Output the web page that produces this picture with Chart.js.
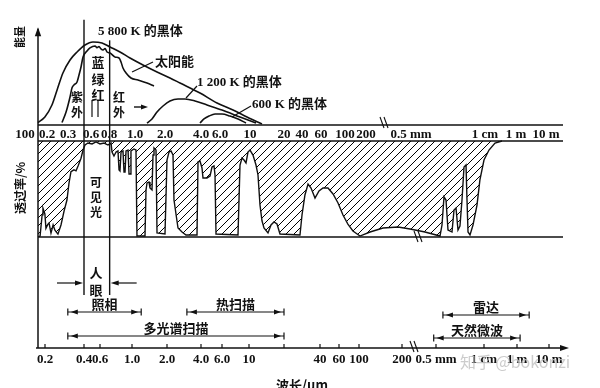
<!DOCTYPE html>
<html><head><meta charset="utf-8">
<script src="https://cdn.jsdelivr.net/npm/chart.js@4.4.1/dist/chart.umd.min.js"></script>
<style>html,body{margin:0;padding:0;background:#fff;overflow:hidden}</style>
</head><body>
<canvas id="c" width="600" height="388"></canvas>
<script>
// ================= DATA (wavelength in μm) =================
// Energy curves (relative spectral energy)
const bb5800Wl = [0.168,0.192,0.22,0.243,0.272,0.319,0.394,0.501,0.619,0.715,0.807,0.879,0.958,1.203,1.663,2.201,2.67,3.924,5.63,7.49,9.5,12.77];
const bb5800E  = [0.03,0.097,0.243,0.426,0.633,0.791,0.888,0.973,1.01,0.998,0.949,0.888,0.815,0.73,0.645,0.572,0.511,0.389,0.268,0.182,0.097,0.012];
const solarWl = [0.267,0.289,0.319,0.338,0.359,0.394,0.418,0.444,0.472,0.532,0.582,0.64,0.66,0.682,0.704,0.727,0.751,0.775,0.807,0.842,0.872,0.887,0.902,0.926,0.966,1.072,1.32,1.551];
const solarE  = [0.03,0.158,0.341,0.45,0.487,0.523,0.608,0.706,0.827,0.9,0.937,0.961,0.94,0.955,0.925,0.912,0.93,0.888,0.876,0.827,0.815,0.766,0.693,0.633,0.572,0.547,0.511,0.474];
const bb1200Wl = [1.32,1.481,1.663,1.91,2.201,2.569,2.94,3.564,4.547,6.208,8.434,11.3];
const bb1200E  = [0.024,0.073,0.158,0.231,0.292,0.316,0.316,0.292,0.243,0.182,0.097,0.024];
const bb600Wl = [3.924,4.265,4.75,5.394,6.208,7.114,8.153,9.341];
const bb600E  = [0.024,0.073,0.109,0.134,0.134,0.109,0.073,0.024];

// Atmospheric transmission (%)
const transWl = [0.168,0.175,0.182,0.185,0.192,0.196,0.204,0.208,0.216,0.225,
 0.233,0.247,0.262,0.278,0.294,0.309,0.328,0.359,0.382,0.406,
 0.444,0.472,0.501,0.548,0.61,0.65,0.693,0.739,0.787,0.814,
 0.821,0.835,0.85,0.864,0.872,0.879,0.887,0.902,0.91,0.918,
 0.926,0.942,0.95,0.958,0.966,0.991,1.023,1.047,1.26,1.29,
 1.32,1.382,1.414,1.481,1.516,1.551,1.625,1.663,2.0,2.078,
 2.16,2.245,2.333,2.378,2.569,2.775,2.996,3.704,3.776,3.924,
 4.086,4.175,4.547,4.848,5.059,5.28,5.394,5.51,8.153,8.434,
 8.726,9.029,9.341,9.663,10,10.63,11.3,11.77,12.26,12.77,
 13.3,14.43,15.34,16.31,17.34,18.43,37,40,42.6,45.5,
 48.5,52.8,57.5,62.6,69.6,77.5,86.2,95.8,110,130,
 164,217,283,384,490,881,1617,1754,1902,2063,
 2236,2630,2852,3092,3350,3630,3940,4275,4636,4827,
 5030,5450,6152,7233,8140,9600,18100,44200,125000,3.7e7];
const transPct = [0,1,23,30,24,9,13.5,14.6,4,12.5,
 7,3,12.5,27,38.5,56,68,70,69,74,
 82,90.6,95.8,97.9,96.9,99,96.9,97.9,95.8,97.9,
 88.5,84.4,88.5,89.6,69.8,68.8,88.5,89.6,67.7,67.7,
 89.6,90.6,65.6,65.6,89.6,91.7,90.6,1,1,49,
 56.3,57.3,51,49,85.4,92.7,90.6,4.2,3.1,80.2,
 88.5,89.6,85.4,38.5,9.4,5.2,2.1,2.1,78.1,79.2,
 71.9,61.5,61.5,63.5,72.9,74,64.6,3.1,2.1,75,
 82.3,80.2,77.1,88.5,90.6,85.4,75,64.6,33.3,16.7,
 9.4,4.2,12.5,15.6,13.5,3.1,2.1,22.9,43.8,55.2,
 51,40.6,47.9,51,51,44.8,35.4,22.9,13.5,6.3,
 1,5.2,9.4,10.4,8.3,5.2,1,12.5,41.7,38.5,
 7.3,5.2,28.1,30.2,7.3,11.5,38.5,72.9,75,38.5,
 5.2,2.1,12.5,33.3,59.4,80.2,90.6,97.9,100,100];

// Tick labels
const topTickWl = [0.2,0.3,0.6,0.8,1,2,4,6,10,20,40,60,100,200,500,1e4,1e6,1e7];
const topTickLabels = ['0.2','0.3','0.6','0.8','1.0','2.0','4.0','6.0','10','20','40','60','100','200','0.5 mm','1 cm','1 m','10 m'];
const botTickWl = [0.2,0.4,0.6,1,2,4,6,10,40,60,100,200,500,1e4,1e6,1e7];
const botTickLabels = ['0.2','0.4','0.6','1.0','2.0','4.0','6.0','10','40','60','100','200','0.5 mm','1 cm','1 m','10 m'];

// Sensor ranges (μm) and visible band
const sensorNames = ['照相','热扫描','多光谱扫描','雷达','天然微波'];
const sensorFrom  = [0.3, 3, 0.3, 770, 470];
const sensorTo    = [1.2, 20, 20, 2.4e6, 1.25e6];
const visibleBand = [0.4, 0.7];

// ================= AXIS LAYOUT (broken wavelength axes) =================
const SPAN = 525;
const AXES = {
  x:  { wl: [0.2,0.3,0.6,0.8,1,2,4,6,10,20,40,60,100,200,500,1e4,1e6,1e7],
        pos:[9,30,53,71,97,127,163,182,212,246,264,283,307,328,373,447,478,508] },
  xb: { wl: [0.2,0.4,0.6,1,2,4,6,10,20,40,60,100,200,500,1e4,1e6,1e7],
        pos:[7,46,62,94,129,163,184,211,246,282,301,321,364,398,446,479,511] }
};
const SENSOR_ROWS = [36, 36, 12, 33, 10];
const EYE_ROW = 65;

const LinearScale = Chart.LinearScale || Chart.registry.getScale('linear');
class BrokenAxis extends LinearScale {
  getPixelForValue(v) {
    if (v === null || v === undefined || isNaN(v)) return NaN;
    const a = AXES[this.id], W = a.wl, P = a.pos;
    let i = 0;
    while (i < W.length - 2 && v > W[i + 1]) i++;
    const f = Math.log(v / W[i]) / Math.log(W[i + 1] / W[i]);
    const pos = P[i] + f * (P[i + 1] - P[i]);
    return this.left + pos * this.width / SPAN;
  }
}
BrokenAxis.id = 'broken';
Chart.register(BrokenAxis);

// ================= STYLE =================
const INK = '#111';
const SERIF = "bold 13px 'Liberation Serif', 'Noto Sans CJK SC', serif";
const CJK13 = "bold 13px 'Noto Sans CJK SC', sans-serif";
const CJK12 = "bold 12px 'Noto Sans CJK SC', sans-serif";

function hatchPattern() {
  const s = 8, c = document.createElement('canvas');
  c.width = s; c.height = s;
  const g = c.getContext('2d');
  g.strokeStyle = '#000'; g.lineWidth = 1;
  g.beginPath();
  g.moveTo(0, s); g.lineTo(s, 0);
  g.moveTo(-1, 1); g.lineTo(1, -1);
  g.moveTo(s - 1, s + 1); g.lineTo(s + 1, s - 1);
  g.stroke();
  return g.createPattern(c, 'repeat');
}

const pts = (xs, ys) => xs.map((x, i) => ({x, y: ys[i]}));
const curve = (wl, e) => ({
  data: pts(wl, e), xAxisID: 'x', yAxisID: 'yE',
  borderColor: INK, borderWidth: 1.6, pointRadius: 0, fill: false,
  cubicInterpolationMode: 'monotone'
});

function ln(g, x1, y1, x2, y2, w) { g.lineWidth = w || 1.4; g.beginPath(); g.moveTo(x1, y1); g.lineTo(x2, y2); g.stroke(); }
function head(g, x, y, dir, len, half) {
  g.beginPath();
  if (dir === 'r') { g.moveTo(x, y); g.lineTo(x - len, y - half); g.lineTo(x - len, y + half); }
  else if (dir === 'l') { g.moveTo(x, y); g.lineTo(x + len, y - half); g.lineTo(x + len, y + half); }
  else { g.moveTo(x, y); g.lineTo(x - half, y + len); g.lineTo(x + half, y + len); }
  g.closePath(); g.fill();
}
function txt(g, s, x, y, font, align) { g.font = font; g.textAlign = align || 'center'; g.textBaseline = 'middle'; g.fillText(s, x, y); }
function vtxt(g, s, x, ys, font) { s.split('').forEach((c, i) => txt(g, c, x, ys[i], font)); }
function rtxt(g, s, x, y, font) { g.save(); g.translate(x, y); g.rotate(-Math.PI / 2); txt(g, s, 0, 0, font); g.restore(); }

const deco = {
  id: 'deco',
  afterDatasetsDraw(chart) {
    const g = chart.ctx, S = chart.scales;
    const X = w => S.x.getPixelForValue(w), XB = w => S.xb.getPixelForValue(w);
    const YE = v => S.yE.getPixelForValue(v), YT = v => S.yT.getPixelForValue(v), YB = v => S.yB.getPixelForValue(v);
    const L = chart.chartArea.left, R = chart.chartArea.right;
    g.save();
    g.strokeStyle = INK; g.fillStyle = INK; g.lineCap = 'butt';

    // axes frame
    ln(g, L, YE(1.17), L, YB(0), 1.5);
    head(g, L, YE(1.19), 'u', 9, 3.2);
    ln(g, L, YE(0), R, YE(0), 1.5);
    ln(g, L, YT(0), R, YT(0), 1.4);
    // top edge of absorption hatch (100%)
    let k = transPct.length - 1;
    while (k > 0 && transPct[k - 1] >= 100) k--;
    ln(g, L, YT(100), X(transWl[k]), YT(100), 1.4);
    // bottom axis with arrow
    ln(g, L - 2, YB(0), R + 1, YB(0), 1.5);
    head(g, R + 6, YB(0), 'r', 9, 3);

    // break marks
    const brk = (x, y) => { ln(g, x - 4, y - 6, x, y + 5, 1.1); ln(g, x, y - 6, x + 4, y + 5, 1.1); };
    brk(384, YE(0) - 2); brk(418, YT(0)); brk(414, YB(0) - 1);

    // visible band boundary lines
    ln(g, XB(visibleBand[0]), YE(1.28), XB(visibleBand[0]), YB(53), 1.4);
    ln(g, XB(visibleBand[1]), YE(1.03), XB(visibleBand[1]), YB(53), 1.4);

    // top tick labels
    g.fillStyle = INK;
    topTickWl.forEach((w, i) => txt(g, topTickLabels[i], X(w), 135, SERIF));
    txt(g, '100', 25, 135, SERIF);

    // bottom ticks + labels
    botTickWl.forEach((w, i) => { ln(g, XB(w), YB(0), XB(w), YB(0) - 4, 1.2); txt(g, botTickLabels[i], XB(w), 360, SERIF); });
    ln(g, XB(20), YB(0), XB(20), YB(0) - 4, 1.2);

    // energy panel labels + leaders
    txt(g, '5 800 K 的黑体', 98, 32, SERIF, 'left');
    txt(g, '太阳能', 155, 61, CJK13, 'left');
    txt(g, '1 200 K 的黑体', 197, 83, SERIF, 'left');
    txt(g, '600 K 的黑体', 252, 105, SERIF, 'left');
    ln(g, 132, 72, 153, 62, 1.2);
    ln(g, 186, 98, 197, 86, 1.2);
    ln(g, 232, 117, 251, 106, 1.2);
    vtxt(g, '紫外', 77, [97, 112], CJK12);
    vtxt(g, '蓝绿红', 98, [62, 79, 95], CJK13);
    vtxt(g, '红外', 119, [97, 112], CJK12);
    ln(g, 92, 100, 92, 117, 1.2); ln(g, 98, 100, 98, 117, 1.2);
    ln(g, 134, 107, 142, 107, 1.4); head(g, 148, 107, 'r', 7, 2.5);

    // transmission panel labels
    vtxt(g, '可见光', 96, [182, 197, 212], CJK12);

    // eye arrows
    const ey = YB(EYE_ROW);
    ln(g, XB(visibleBand[0]) - 27, ey, XB(visibleBand[0]) - 6, ey, 1.2); head(g, XB(visibleBand[0]) - 1, ey, 'r', 8, 2.6);
    ln(g, XB(visibleBand[1]) + 27, ey, XB(visibleBand[1]) + 6, ey, 1.2); head(g, XB(visibleBand[1]) + 1, ey, 'l', 8, 2.6);
    vtxt(g, '人眼', 96, [273, 290], CJK13);

    // sensor bars
    sensorNames.forEach((name, i) => {
      const x1 = XB(sensorFrom[i]), x2 = XB(sensorTo[i]), y = YB(SENSOR_ROWS[i]);
      ln(g, x1, y, x2, y, 1.2);
      ln(g, x1, y - 3.5, x1, y + 3.5, 1.2); ln(g, x2, y - 3.5, x2, y + 3.5, 1.2);
      head(g, x1 + 3, y, 'l', 7, 2.6); head(g, x2 - 3, y, 'r', 7, 2.6);
      txt(g, name, (x1 + x2) / 2, y - 8, CJK13);
    });

    // axis titles
    rtxt(g, '能量', 20, 37, "bold 11px 'Noto Sans CJK SC', sans-serif");
    rtxt(g, '透过率/%', 20, 188, "bold 12px 'Noto Sans CJK SC', sans-serif");
    txt(g, '波长/μm', 302, 385, "bold 13px 'Noto Sans CJK SC', 'Liberation Serif', sans-serif");

    // watermark
    g.fillStyle = 'rgba(195,195,195,0.85)';
    txt(g, '知乎 @bokonzi', 460, 362, "16px 'Noto Sans CJK SC', sans-serif", 'left');
    g.restore();
  }
};

new Chart(document.getElementById('c'), {
  type: 'line',
  data: {
    datasets: [
      curve(bb5800Wl, bb5800E),
      curve(solarWl, solarE),
      curve(bb1200Wl, bb1200E),
      curve(bb600Wl, bb600E),
      {
        data: pts(transWl, transPct), xAxisID: 'x', yAxisID: 'yT',
        borderColor: INK, borderWidth: 1.4, pointRadius: 0, tension: 0,
        fill: {value: 100}, backgroundColor: hatchPattern()
      }
    ]
  },
  options: {
    responsive: false, animation: false, events: [],
    layout: {padding: {left: 38, right: 37, top: 14, bottom: 40}},
    plugins: {legend: {display: false}, tooltip: {enabled: false}, title: {display: false}},
    scales: {
      x:  {type: 'broken', axis: 'x', position: 'bottom', display: false},
      xb: {type: 'broken', axis: 'x', position: 'bottom', display: false},
      yE: {type: 'linear', axis: 'y', position: 'left', display: false, min: 0, max: 1.35, stack: 'v', stackWeight: 111, weight: 3},
      yT: {type: 'linear', axis: 'y', position: 'left', display: false, min: 0, max: 116.67, stack: 'v', stackWeight: 112, weight: 2},
      yB: {type: 'linear', axis: 'y', position: 'left', display: false, min: 0, max: 111, stack: 'v', stackWeight: 111, weight: 1}
    }
  },
  plugins: [deco]
});
</script>
</body></html>
